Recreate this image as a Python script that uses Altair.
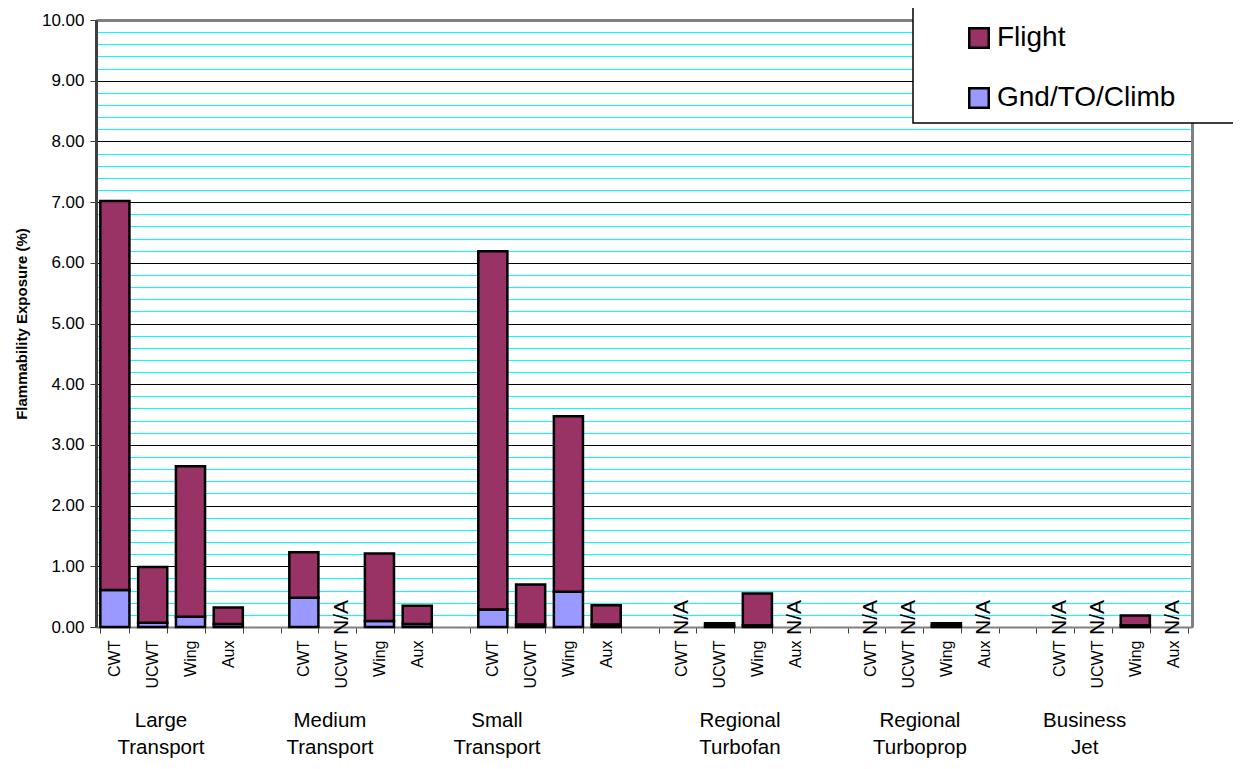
import altair as alt
import pandas as pd

# ---- data ----
groups = ["Large Transport", "Medium Transport", "Small Transport",
          "Regional Turbofan", "Regional Turboprop", "Business Jet"]
group_labels = ["Large\nTransport", "Medium\nTransport", "Small\nTransport",
                "Regional\nTurbofan", "Regional\nTurboprop", "Business\nJet"]
tanks = ["CWT", "UCWT", "Wing", "Aux"]
gnd_values = [
    [0.61, 0.07, 0.17, 0.05],
    [0.48, None, 0.10, 0.05],
    [0.29, 0.04, 0.58, 0.04],
    [None, 0.02, 0.03, None],
    [None, None, 0.02, None],
    [None, None, 0.03, None],
]
flight_values = [
    [6.41, 0.92, 2.48, 0.27],
    [0.75, None, 1.11, 0.30],
    [5.90, 0.66, 2.89, 0.32],
    [None, 0.04, 0.52, None],
    [None, None, 0.04, None],
    [None, None, 0.16, None],
]
# where each group caption sits, in category-slot units
group_label_anchor = [1.72, 6.19, 10.61, 17.04, 21.8, 26.16]
series = ["Flight", "Gnd/TO/Climb"]
colors = ["#993366", "#9999FF"]

FONT = "Liberation Sans"

# ---- build tables ----
slots = []
for gi, g in enumerate(groups):
    for t in tanks:
        slots.append(f"{g}|{t}")
    if gi < len(groups) - 1:
        slots.append(f"gap{gi}")
n_slots = len(slots)

bar_rows, na_rows = [], []
for gi, g in enumerate(groups):
    for ti, t in enumerate(tanks):
        key = f"{g}|{t}"
        gv, fv = gnd_values[gi][ti], flight_values[gi][ti]
        if gv is None:
            na_rows.append({"slot": key, "zero": 0, "txt": "N/A"})
            continue
        bar_rows.append({"slot": key, "series": "Gnd/TO/Climb", "value": gv, "ord": 0})
        bar_rows.append({"slot": key, "series": "Flight", "value": fv, "ord": 1})
bars_df = pd.DataFrame(bar_rows)
na_df = pd.DataFrame(na_rows)
lab_df = pd.DataFrame({"label": group_labels, "pos": group_label_anchor})

x_scale = alt.Scale(domain=slots, paddingInner=0.23, paddingOuter=0.115)
y_scale = alt.Scale(domain=[0, 10], nice=False, zero=True)
minor_vals = [round(i * 0.2, 1) for i in range(51)]
is_major = "abs(datum.value - round(datum.value)) < 0.001"

bars = alt.Chart(bars_df).mark_bar(stroke="black", strokeWidth=2.5).encode(
    x=alt.X("slot:N", scale=x_scale, sort=slots, title=None,
            axis=alt.Axis(labelExpr="indexof(datum.label, '|') >= 0 ? split(datum.label, '|')[1] : ''",
                          labelAngle=270, labelFont=FONT, labelFontSize=16, labelColor="black",
                          labelPadding=7, tickBand="extent", tickSize=6, tickColor="#404040",
                          domainColor="#808080", domainWidth=2, grid=False, zindex=0)),
    y=alt.Y("value:Q", stack="zero", scale=y_scale,
            title="Flammability Exposure (%)",
            axis=alt.Axis(values=minor_vals, labelExpr=f"{is_major} ? format(datum.value, '.2f') : ''",
                          labelFont=FONT, labelFontSize=17, labelColor="black", labelPadding=6,
                          tickSize=6, tickColor="#404040",
                          tickOpacity={"condition": {"test": is_major, "value": 1}, "value": 0},
                          grid=True,
                          gridColor={"condition": {"test": is_major, "value": "#000000"}, "value": "#00FFFF"},
                          gridWidth=1, domainColor="#404040", domainWidth=3,
                          titleFont=FONT, titleFontSize=15, titleFontWeight="bold",
                          titleColor="black", titlePadding=12, zindex=0)),
    color=alt.Color("series:N", scale=alt.Scale(domain=series, range=colors),
                    legend=alt.Legend(orient="none", legendX=869, legendY=4, title=None,
                                      symbolType="square", symbolSize=380,
                                      symbolStrokeColor="black", symbolStrokeWidth=2.5,
                                      symbolOpacity=1, labelFont=FONT, labelFontSize=28,
                                      labelColor="black", labelOffset=4, rowPadding=30,
                                      labelLimit=600, padding=0)),
    order=alt.Order("ord:Q"),
)

na_text = alt.Chart(na_df).mark_text(angle=270, align="left", baseline="middle", dx=-8,
                                     font=FONT, fontSize=21, color="black").encode(
    x=alt.X("slot:N", scale=x_scale, sort=slots, axis=None),
    y=alt.Y("zero:Q", scale=y_scale,
            axis=alt.Axis(orient="right", labels=False, ticks=False, grid=False, title=None,
                          domainColor="#808080", domainWidth=3, zindex=0)),
    text="txt:N",
)

grp_text = alt.Chart(lab_df).mark_text(align="center", baseline="alphabetic", lineBreak="\n",
                                       lineHeight=27, font=FONT, fontSize=20.5, color="black").encode(
    x=alt.X("pos:Q", scale=alt.Scale(domain=[0, n_slots], nice=False, zero=True),
            axis=alt.Axis(orient="top", labels=False, ticks=False, grid=False, title=None,
                          domainColor="#808080", domainWidth=3, zindex=0)),
    y=alt.value(707),
    text="label:N",
)

legend_box = alt.Chart(pd.DataFrame({"k": [0]})).mark_rect(
    fill="white", stroke="black", strokeWidth=1.5).encode(
    x=alt.value(817), x2=alt.value(1180), y=alt.value(-13), y2=alt.value(103))

chart = alt.layer(bars, na_text, grp_text, legend_box).resolve_scale(
    x="independent").resolve_axis(x="independent", y="independent").properties(
    width=1096, height=607,
    autosize=alt.AutoSizeParams(type="none"),
    padding={"left": 88, "top": 12, "right": 41, "bottom": 134},
).configure_view(stroke=None).configure(background="white")

chart.save("out.html", embed_options={"renderer": "svg", "actions": False})
